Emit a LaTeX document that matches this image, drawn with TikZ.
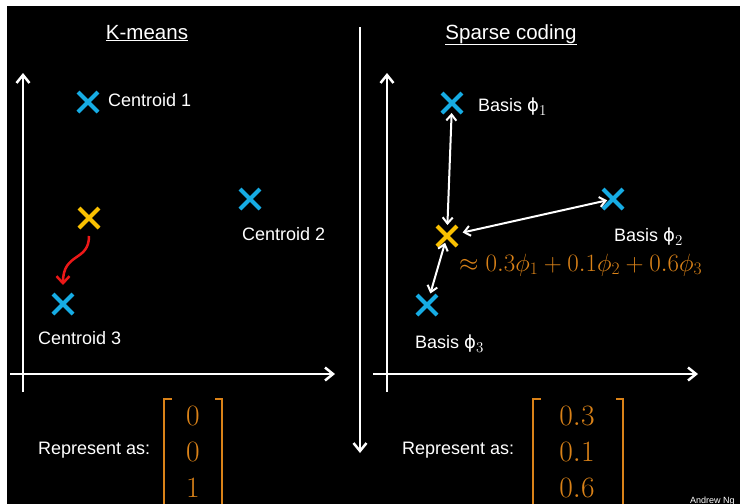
\documentclass[tikz,border=0pt]{standalone}
\usepackage{fix-cm}
\usepackage[no-math]{fontspec}
\setmainfont{Liberation Sans}
\newfontfamily\phifnt{DejaVu Sans}
\usetikzlibrary{arrows.meta}
\usetikzlibrary{positioning}
\usetikzlibrary{shapes.misc}

\definecolor{ptblue}{RGB}{22,172,228}
\definecolor{ptyellow}{RGB}{250,192,0}
\definecolor{coeforange}{RGB}{218,130,24}
\definecolor{moveRed}{RGB}{236,24,24}

\newcommand{\basisphi}[1]{{\phifnt ϕ}\raisebox{-4pt}{\fontsize{15}{15}\selectfont$#1$}}

\tikzset{
  xpt/.style={cross out,draw=#1,line width=4pt,minimum size=16pt,inner sep=0pt},
  ttl/.style={font=\fontsize{20.5}{24}\selectfont,text=white,anchor=base},
  lbl/.style={font=\fontsize{18}{21}\selectfont,text=white,inner sep=0pt,anchor=west},
  axis/.style={white,line width=2.5pt,-{Straight Barb[length=8pt,width=13pt]}},
  dbl/.style={white,line width=2pt,{Straight Barb[length=6pt,width=10pt]}-{Straight Barb[length=6pt,width=10pt]}},
  ent/.style={font=\fontsize{29.5}{35}\selectfont,text=coeforange,inner sep=0pt},
  brk/.style={coeforange,line width=1.8pt},
}

\begin{document}
\begin{tikzpicture}[x=1pt,y=-1pt]
\useasboundingbox (0,0) rectangle (740,504);
\clip (0,0) rectangle (740,504);
\fill[white] (0,0) rectangle (740,504);
\fill[black] (7,6) rectangle (740,504);

\node[ttl] (tkm) at (147,39) {\underline{K-means}};
\node[ttl] (tsc) at (511,39) {\underline{Sparse coding}};

\draw[axis] (360,27) -- (360,453);
\draw[axis] (23,392) -- (23,73);
\draw[axis] (10,374) -- (335,374);
\draw[axis] (387,392) -- (387,73);
\draw[axis] (373,374) -- (698,374);

\node[xpt=ptblue] (c1) at (88,102) {};
\node[xpt=ptblue] (c2) at (250,199) {};
\node[xpt=ptblue] (c3) at (63,304) {};
\node[xpt=ptyellow] (xk) at (89,218) {};
\node[lbl] (l1) at (108,100) {Centroid 1};
\node[lbl] (l2) at (242,234) {Centroid 2};
\node[lbl] (l3) at (38,338) {Centroid 3};
\draw[moveRed,line width=2.5pt,-{Straight Barb[length=7pt,width=13pt]},shorten <=8pt,shorten >=9pt]
  (xk.south) .. controls (89,262) and (63,252) .. (c3.north);

\node[xpt=ptblue] (b1) at (452,103) {};
\node[xpt=ptblue] (b2) at (613,199) {};
\node[xpt=ptblue] (b3) at (427,305) {};
\node[xpt=ptyellow] (xs) at (447,236) {};
\node[lbl] (lb1) at (478,107) {Basis \basisphi{1}};
\node[lbl] (lb2) at (614,237) {Basis \basisphi{2}};
\node[lbl] (lb3) at (415,344) {Basis \basisphi{3}};
\draw[dbl,shorten <=11pt,shorten >=10pt] (xs.center) -- (b1.center);
\draw[dbl,shorten <=16pt,shorten >=6pt] (xs.center) -- (b2.center);
\draw[dbl,shorten <=7pt,shorten >=12pt] (xs.center) -- (b3.center);
\node[font=\fontsize{25}{29}\selectfont,text=coeforange,inner sep=0pt,anchor=base west] (apx) at (459,271)
  {$\approx 0.3\phi_1+0.1\phi_2+0.6\phi_3$};

\node[lbl] (rk) at (38,450) {Represent as:};
\node[lbl] (rs) at (402,450) {Represent as:};
\foreach \v [count=\i] in {0,0,1}
  \node[ent] (k\i) at (193,{416+36*(\i-1)}) {$\v$};
\foreach \v [count=\i] in {0.3,0.1,0.6}
  \node[ent] (s\i) at (577,{416+36*(\i-1)}) {$\v$};
\foreach \l/\r in {164/222,533/623}{
  \draw[brk] (\l+8,399) -- (\l,399) -- (\l,510);
  \draw[brk] (\r-7,399) -- (\r,399) -- (\r,510);
}

\node[font=\fontsize{9}{10}\selectfont,text=white,inner sep=0pt,anchor=base west] (cr) at (690,503) {Andrew Ng};
\end{tikzpicture}
\end{document}
